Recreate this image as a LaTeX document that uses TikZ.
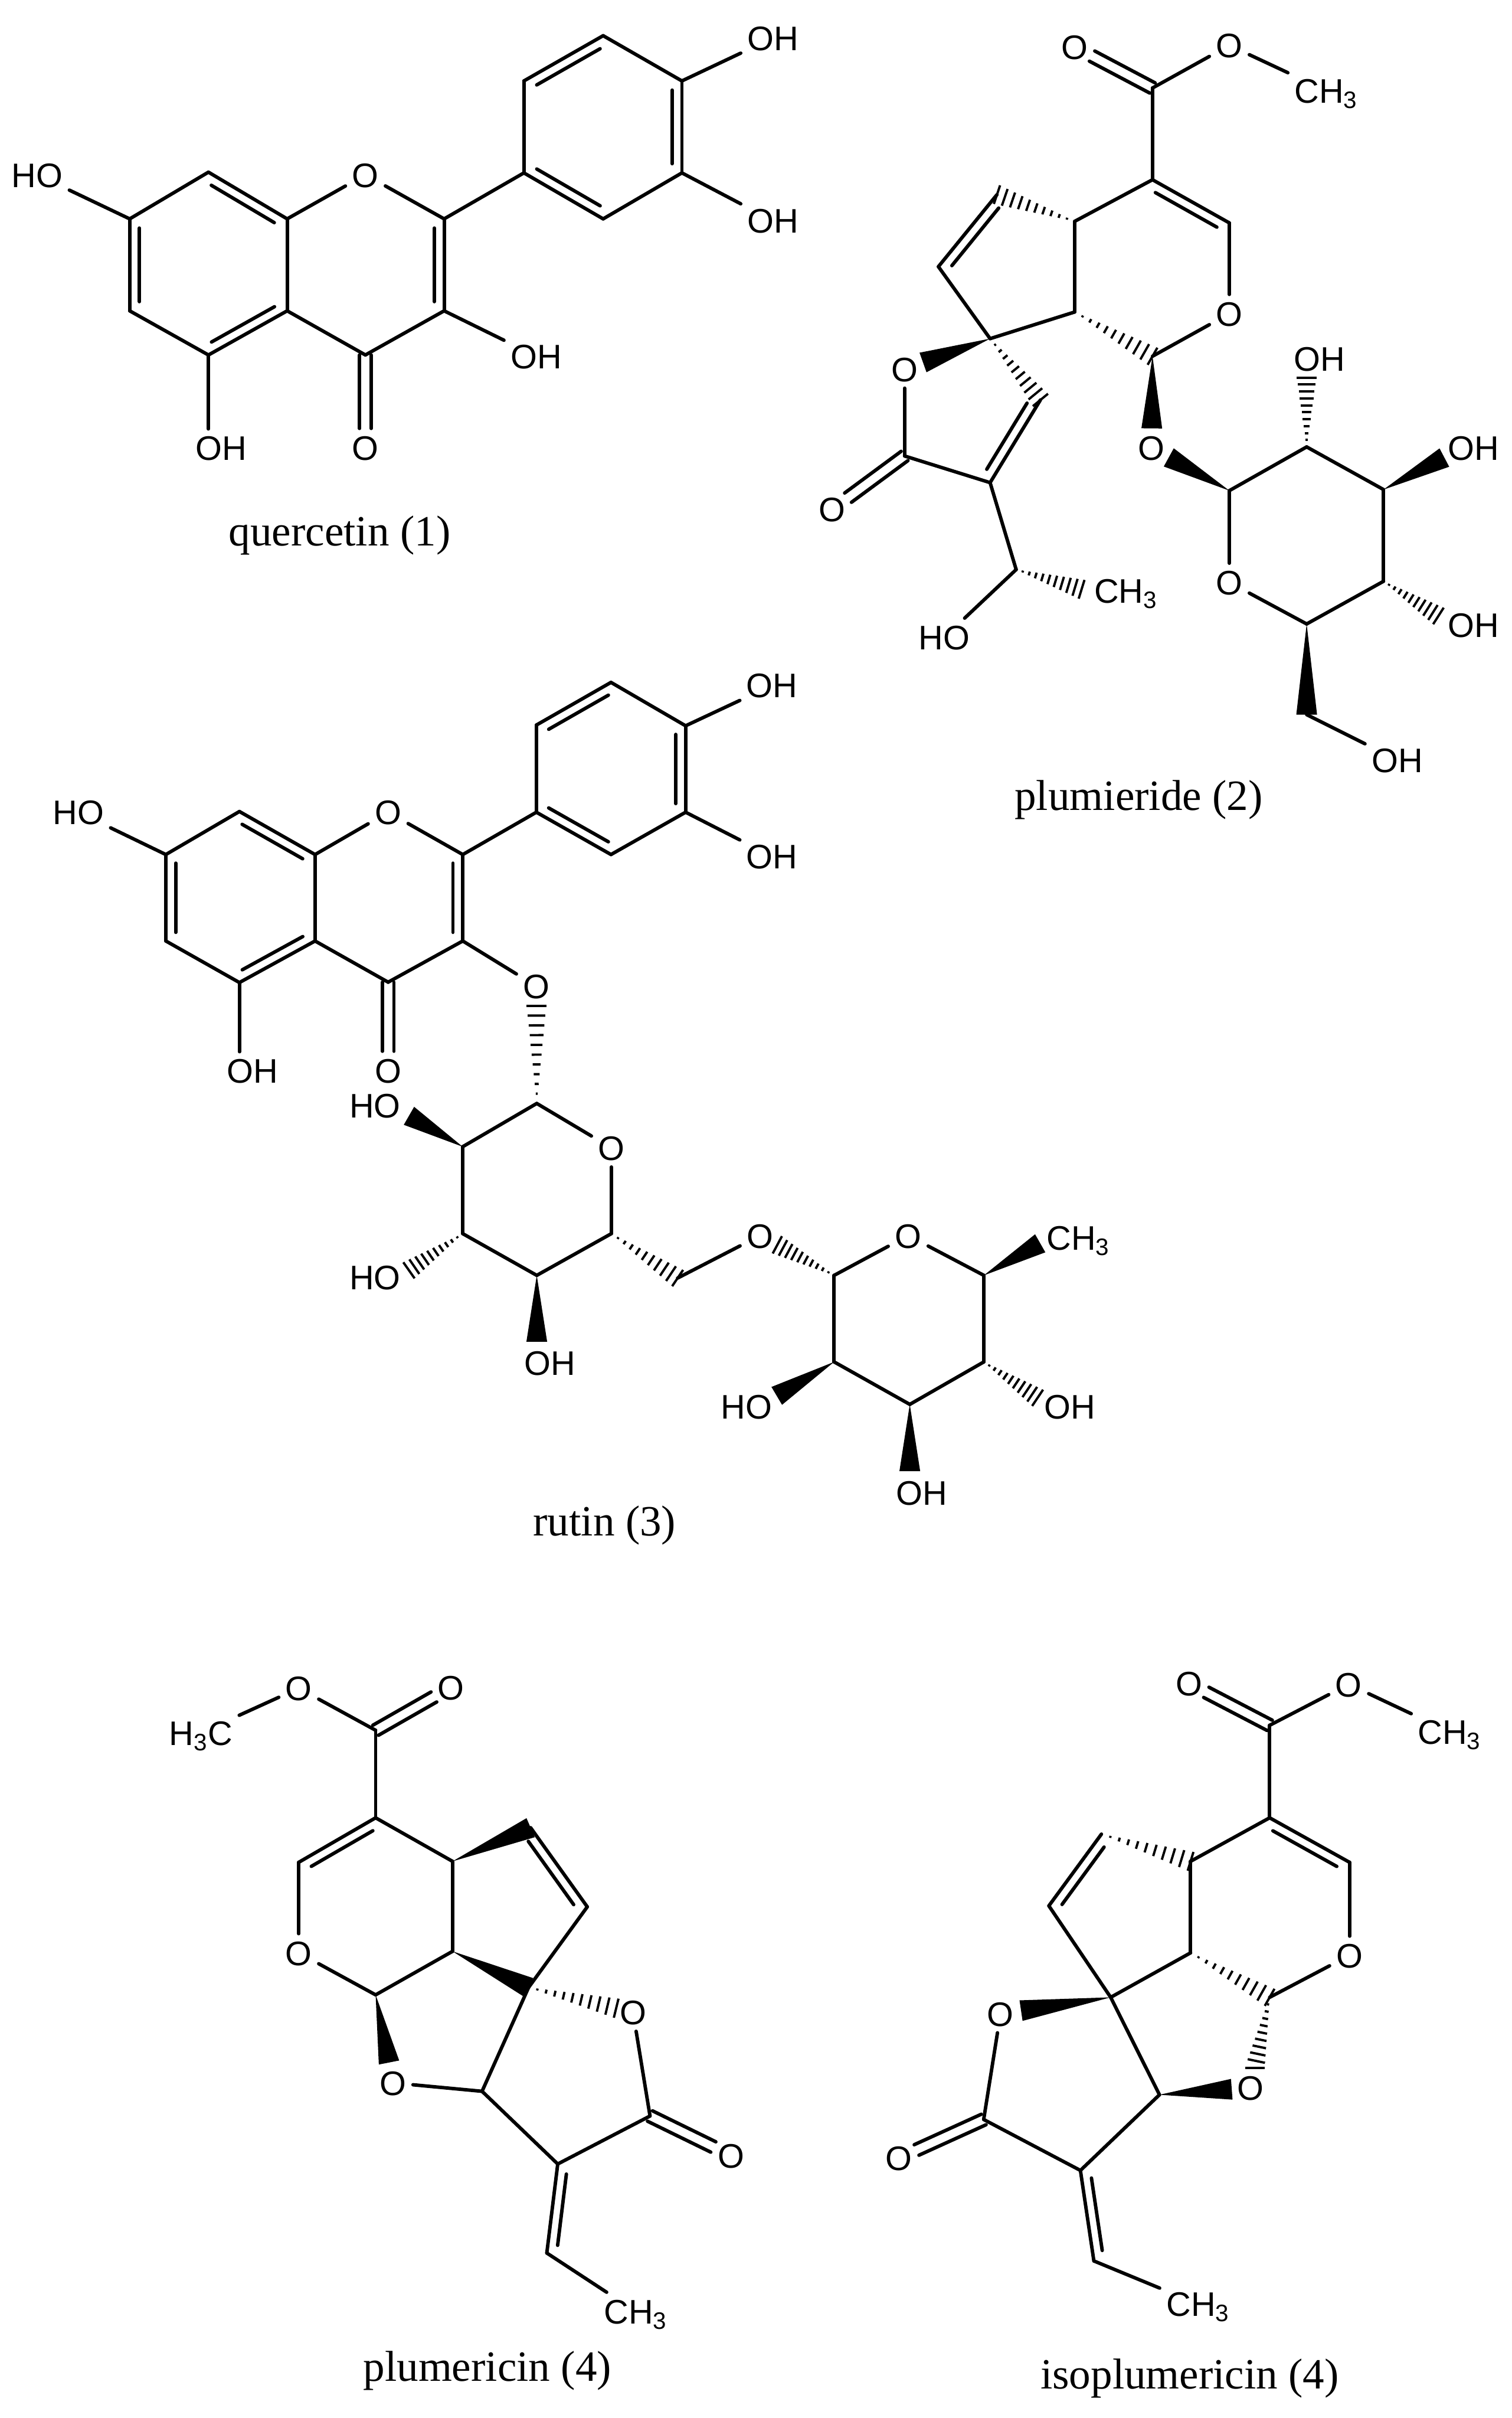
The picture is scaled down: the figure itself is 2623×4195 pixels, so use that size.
\documentclass[tikz,border=0pt]{standalone}
\usepackage{fontspec}
\setmainfont{Liberation Sans}
\newfontfamily\capfont{Liberation Serif}
\usetikzlibrary{calc}
\tikzstyle{atom} = [inner sep=0.11cm, font=\fontsize{16.8}{20}\selectfont, text height=0.43cm, text depth=0pt]
\tikzstyle{bond} = [draw, line width=0.06cm, line cap=round, line join=round]
\tikzstyle{hashbar} = [draw, line width=0.04cm]
\tikzstyle{caption} = [inner sep=0pt, font=\fontsize{21.3}{25}\selectfont\capfont]
% double bond, #3 = 1 inner line on the left of a->b, -1 on the right
\newcommand{\dbond}[3]{
    \draw [bond] (#1) -- (#2);
    \draw [bond] ($(#1)!.1!(#2)!#3*0.17cm!90:(#2)$) -- ($(#2)!.1!(#1)!#3*0.17cm!-90:(#1)$);
}
\newcommand{\cobond}[2]{
    \coordinate (cotip) at ($(#2)!0.34cm!(#1)$);
    \draw [bond] ($(#1)!0.1cm!90:(#2)$) -- ($(cotip)!0.1cm!-90:(#1)$);
    \draw [bond] ($(#1)!0.1cm!-90:(#2)$) -- ($(cotip)!0.1cm!90:(#1)$);
}
\newcommand{\wedgebond}[3][0pt]{
    \coordinate (wtip) at ($(#3)!#1!(#2)$);
    \fill (#2) -- ($(wtip)!0.18cm!90:(#2)$) -- ($(wtip)!0.18cm!-90:(#2)$) -- cycle;
}
\newcommand{\hashbond}[3][0pt]{
    \coordinate (wtip) at ($(#3)!#1!(#2)$);
    \foreach \t in {0.1,0.2,...,1.0}
        \draw [hashbar] ($(#2)!\t!(wtip)!\t*0.17cm!90:(wtip)$) -- ($(#2)!\t!(wtip)!\t*0.17cm!-90:(wtip)$);
}
\begin{document}
\begin{tikzpicture}[x=0.01cm, y=-0.01cm]
    \useasboundingbox [fill=white] (0,0) rectangle (2623,4195);

    % quercetin
    \begin{scope}[x=0.008929cm, y=-0.006378cm]
    \coordinate (qa) at (252,595);
    \coordinate (qb) at (405,468);
    \coordinate (qc) at (558,595);
    \node [atom] (qo) at (710,475) {O};
    \coordinate (qd) at (863,595);
    \coordinate (qe) at (863,845);
    \coordinate (qf) at (710,965);
    \coordinate (qg) at (558,845);
    \coordinate (qh) at (405,965);
    \coordinate (qi) at (252,845);
    \coordinate (qj) at (1018,470);
    \coordinate (qk) at (1018,220);
    \coordinate (ql) at (1172,97);
    \coordinate (qm) at (1325,220);
    \coordinate (qn) at (1325,470);
    \coordinate (qp) at (1172,595);
    \node [atom] (qho) at (72,475) {HO};
    \node [atom] (qohe) at (1042,968) {OH};
    \node [atom] (qcar) at (710,1218) {O};
    \node [atom] (qohh) at (430,1218) {OH};
    \node [atom] (qohm) at (1502,103) {OH};
    \node [atom] (qohn) at (1502,600) {OH};
    \node [caption] (qname) at (660,1455) {quercetin (1)};
    \draw [bond] (qho) -- (qa);
    \draw [bond] (qa) -- (qb);
    \dbond{qb}{qc}{-1}
    \draw [bond] (qc) -- (qo);
    \draw [bond] (qo) -- (qd);
    \dbond{qd}{qe}{-1}
    \draw [bond] (qe) -- (qf);
    \draw [bond] (qf) -- (qg);
    \draw [bond] (qg) -- (qc);
    \dbond{qg}{qh}{-1}
    \draw [bond] (qh) -- (qi);
    \dbond{qi}{qa}{-1}
    \draw [bond] (qe) -- (qohe);
    \cobond{qf}{qcar}
    \draw [bond] (qh) -- (qh |- qohh.north);
    \draw [bond] (qd) -- (qj);
    \draw [bond] (qj) -- (qk);
    \dbond{qk}{ql}{-1}
    \draw [bond] (ql) -- (qm);
    \dbond{qm}{qn}{-1}
    \draw [bond] (qn) -- (qp);
    \dbond{qp}{qj}{-1}
    \draw [bond] (qm) -- (qohm);
    \draw [bond] (qn) -- (qohn);
    \end{scope}

    % rutin, flavonol part
    \begin{scope}[shift={(0.6cm,-11.5cm)}, x=0.008929cm, y=-0.006378cm]
    \coordinate (ra) at (255,520);
    \coordinate (rb) at (398,403);
    \coordinate (rc) at (545,520);
    \node [atom] (ro) at (687,405) {O};
    \coordinate (rd) at (832,520);
    \coordinate (re) at (832,755);
    \coordinate (rf) at (687,867);
    \coordinate (rg) at (545,755);
    \coordinate (rh) at (398,868);
    \coordinate (ri) at (255,755);
    \coordinate (rj) at (975,405);
    \coordinate (rk) at (975,168);
    \coordinate (rl) at (1120,52);
    \coordinate (rm) at (1265,170);
    \coordinate (rn) at (1265,405);
    \coordinate (rp) at (1120,520);
    \node [atom] (rho) at (85,405) {HO};
    \node [atom] (rglyo) at (975,878) {O};
    \node [atom] (rcar) at (687,1108) {O};
    \node [atom] (rohh) at (423,1108) {OH};
    \node [atom] (rohm) at (1433,60) {OH};
    \node [atom] (rohn) at (1433,525) {OH};
    \draw [bond] (rho) -- (ra);
    \draw [bond] (ra) -- (rb);
    \dbond{rb}{rc}{-1}
    \draw [bond] (rc) -- (ro);
    \draw [bond] (ro) -- (rd);
    \dbond{rd}{re}{-1}
    \draw [bond] (re) -- (rf);
    \draw [bond] (rf) -- (rg);
    \draw [bond] (rg) -- (rc);
    \dbond{rg}{rh}{-1}
    \draw [bond] (rh) -- (ri);
    \dbond{ri}{ra}{-1}
    \draw [bond] (re) -- (rglyo);
    \cobond{rf}{rcar}
    \draw [bond] (rh) -- (rh |- rohh.north);
    \draw [bond] (rd) -- (rj);
    \draw [bond] (rj) -- (rk);
    \dbond{rk}{rl}{-1}
    \draw [bond] (rl) -- (rm);
    \dbond{rm}{rn}{-1}
    \draw [bond] (rn) -- (rp);
    \dbond{rp}{rj}{-1}
    \draw [bond] (rm) -- (rohm);
    \draw [bond] (rn) -- (rohn);
    \end{scope}

    % rutin, the two sugars
    \begin{scope}[shift={(5.6cm,-16.5cm)}, x=0.009056cm, y=-0.006696cm]
    \coordinate (gu) at (410,393);
    \coordinate (gv) at (268,505);
    \coordinate (gw) at (268,730);
    \coordinate (gx) at (410,838);
    \coordinate (gy) at (553,730);
    \node [atom] (gro) at (553,508) {O};
    \coordinate (gch) at (680,845);
    \node [atom] (go) at (838,735) {O};
    \coordinate (su) at (980,838);
    \coordinate (sv) at (980,1062);
    \coordinate (sw) at (1125,1172);
    \coordinate (sx) at (1267,1062);
    \coordinate (sy) at (1267,838);
    \node [atom] (sro) at (1122,735) {O};
    \node [atom] (gohv) at (100,398) {HO};
    \node [atom] (gohw) at (100,842) {HO};
    \node [atom] (gohx) at (435,1065) {OH};
    \node [atom] (sohv) at (812,1178) {HO};
    \node [atom] (sohw) at (1148,1400) {OH};
    \node [atom] (sohx) at (1432,1178) {OH};
    \node [atom] (sme) at (1448,740) {CH\textsubscript{3}};
    \node [caption] (rname) at (540,1485) {rutin (3)};
    \coordinate (gvend) at (165,425);
    \coordinate (gwend) at (165,825);
    \coordinate (gxend) at (410,1010);
    \coordinate (svend) at (870,1150);
    \coordinate (swend) at (1125,1345);
    \coordinate (sxend) at (1370,1155);
    \coordinate (syend) at (1375,755);
    \hashbond[0.34cm]{gu}{rglyo}
    \draw [bond] (gu) -- (gv);
    \draw [bond] (gv) -- (gw);
    \draw [bond] (gw) -- (gx);
    \draw [bond] (gx) -- (gy);
    \draw [bond] (gy) -- (gro);
    \draw [bond] (gro) -- (gu);
    \wedgebond{gv}{gvend}
    \hashbond{gw}{gwend}
    \wedgebond{gx}{gxend}
    \hashbond{gy}{gch}
    \draw [bond] (gch) -- (go);
    \hashbond[0.34cm]{su}{go}
    \draw [bond] (su) -- (sv);
    \draw [bond] (sv) -- (sw);
    \draw [bond] (sw) -- (sx);
    \draw [bond] (sx) -- (sy);
    \draw [bond] (sy) -- (sro);
    \draw [bond] (sro) -- (su);
    \wedgebond{sv}{svend}
    \wedgebond{sw}{swend}
    \hashbond{sx}{sxend}
    \wedgebond{sy}{syend}
    \end{scope}

    % plumieride
    \begin{scope}[shift={(13.8cm,0cm)}, x=0.007927cm, y=-0.009247cm]
    \coordinate (pest) at (780,165);
    \node [atom] (pcar) at (610,88) {O};
    \node [atom] (peo) at (948,85) {O};
    \node [atom] (pme) at (1160,170) {CH\textsubscript{3}};
    \coordinate (pa) at (780,337);
    \coordinate (pb) at (948,418);
    \node [atom] (po) at (948,588) {O};
    \coordinate (pc) at (780,668);
    \coordinate (pd) at (610,585);
    \coordinate (pe) at (610,415);
    \coordinate (pf) at (440,365);
    \coordinate (pg) at (312,500);
    \coordinate (ph) at (425,635);
    \node [atom] (plo) at (238,692) {O};
    \coordinate (pi) at (238,855);
    \node [atom] (plc) at (80,955) {O};
    \coordinate (pj) at (425,905);
    \coordinate (pk) at (535,750);
    \coordinate (pl) at (482,1068);
    \node [atom] (plme) at (722,1108) {CH\textsubscript{3}};
    \node [atom] (plho) at (325,1195) {HO};
    \node [atom] (pglyo) at (778,840) {O};
    \coordinate (su1) at (948,920);
    \coordinate (su2) at (1117,838);
    \coordinate (su3) at (1285,918);
    \coordinate (su4) at (1285,1090);
    \coordinate (su5) at (1117,1170);
    \node [atom] (suo) at (948,1092) {O};
    \coordinate (such) at (1117,1340);
    \node [atom] (suoh2) at (1145,672) {OH};
    \node [atom] (suoh3) at (1482,840) {OH};
    \node [atom] (suoh4) at (1482,1172) {OH};
    \node [atom] (suoh6) at (1315,1425) {OH};
    \node [caption] (pname) at (750,1500) {plumieride (2)};
    \coordinate (plend) at (625,1105);
    \coordinate (su2end) at (1117,708);
    \coordinate (su3end) at (1418,858);
    \coordinate (su4end) at (1405,1155);
    \cobond{pest}{pcar}
    \draw [bond] (pest) -- (peo);
    \draw [bond] (peo) -- (pme);
    \draw [bond] (pest) -- (pa);
    \dbond{pa}{pb}{-1}
    \draw [bond] (pb) -- (po);
    \draw [bond] (po) -- (pc);
    \hashbond{pd}{pc}
    \draw [bond] (pd) -- (pe);
    \draw [bond] (pe) -- (pa);
    \hashbond{pe}{pf}
    \dbond{pg}{pf}{-1}
    \draw [bond] (pg) -- (ph);
    \draw [bond] (ph) -- (pd);
    \wedgebond[0.34cm]{ph}{plo}
    \hashbond{ph}{pk}
    \draw [bond] (plo) -- (pi);
    \cobond{pi}{plc}
    \draw [bond] (pi) -- (pj);
    \dbond{pj}{pk}{1}
    \draw [bond] (pj) -- (pl);
    \hashbond{pl}{plend}
    \draw [bond] (pl) -- (plho);
    \wedgebond[0.34cm]{pc}{pglyo}
    \wedgebond[0.34cm]{su1}{pglyo}
    \draw [bond] (su1) -- (su2);
    \draw [bond] (su2) -- (su3);
    \draw [bond] (su3) -- (su4);
    \draw [bond] (su4) -- (su5);
    \draw [bond] (su5) -- (suo);
    \draw [bond] (suo) -- (su1);
    \hashbond{su2}{su2end}
    \wedgebond{su3}{su3end}
    \hashbond{su4}{su4end}
    \wedgebond{su5}{such}
    \draw [bond] (such) -- (suoh6);
    \end{scope}

    % plumericin
    \begin{scope}[shift={(2.5cm,-28.5cm)}, x=0.007015cm, y=-0.008578cm]
    \node [atom] (mme) at (140,180) {H\textsubscript{3}C};
    \node [atom] (meo) at (382,90) {O};
    \coordinate (mest) at (572,175);
    \node [atom] (mcar) at (758,88) {O};
    \coordinate (ma) at (572,352);
    \coordinate (mb) at (382,442);
    \node [atom] (mo) at (382,625) {O};
    \coordinate (mc) at (572,710);
    \coordinate (md) at (762,622);
    \coordinate (me) at (762,440);
    \coordinate (mf) at (955,372);
    \coordinate (mg) at (1095,532);
    \coordinate (mh) at (950,695);
    \node [atom] (mlo) at (1208,745) {O};
    \coordinate (mi) at (1250,955);
    \node [atom] (mlc) at (1450,1035) {O};
    \coordinate (mj) at (1022,1052);
    \coordinate (mk) at (835,905);
    \node [atom] (mfo) at (615,888) {O};
    \coordinate (ml) at (995,1232);
    \node [atom] (mlme) at (1215,1350) {CH\textsubscript{3}};
    \node [caption] (mname) at (848,1470) {plumericin (4)};
    \draw [bond] (mme) -- (meo);
    \draw [bond] (meo) -- (mest);
    \cobond{mest}{mcar}
    \draw [bond] (mest) -- (ma);
    \dbond{mb}{ma}{-1}
    \draw [bond] (mb) -- (mo);
    \draw [bond] (mo) -- (mc);
    \draw [bond] (mc) -- (md);
    \draw [bond] (md) -- (me);
    \draw [bond] (me) -- (ma);
    \wedgebond{me}{mf}
    \dbond{mf}{mg}{-1}
    \draw [bond] (mg) -- (mh);
    \wedgebond{md}{mh}
    \hashbond[0.3cm]{mh}{mlo}
    \draw [bond] (mlo) -- (mi);
    \cobond{mi}{mlc}
    \draw [bond] (mi) -- (mj);
    \draw [bond] (mj) -- (mk);
    \draw [bond] (mk) -- (mh);
    \draw [bond] (mk) -- (mfo);
    \wedgebond[0.36cm]{mc}{mfo}
    \dbond{mj}{ml}{1}
    \draw [bond] (ml) -- (mlme);
    \end{scope}

    % isoplumericin
    \begin{scope}[shift={(14.8cm,-28.5cm)}, x=0.00729cm, y=-0.008578cm]
    \node [atom] (icar) at (798,80) {O};
    \coordinate (iest) at (990,165);
    \node [atom] (ieo) at (1178,82) {O};
    \node [atom] (ime) at (1418,178) {CH\textsubscript{3}};
    \coordinate (ia) at (990,352);
    \coordinate (ib) at (1180,442);
    \node [atom] (io) at (1180,630) {O};
    \coordinate (ic) at (990,715);
    \coordinate (id) at (802,625);
    \coordinate (ie) at (802,440);
    \coordinate (if) at (590,385);
    \coordinate (ig) at (465,530);
    \coordinate (ih) at (612,715);
    \node [atom] (ilo) at (350,748) {O};
    \coordinate (ii) at (310,962);
    \node [atom] (ilc) at (108,1040) {O};
    \coordinate (ij) at (540,1065);
    \coordinate (ik) at (728,912);
    \node [atom] (ifo) at (945,898) {O};
    \coordinate (il) at (572,1248);
    \node [atom] (ilme) at (820,1335) {CH\textsubscript{3}};
    \node [caption] (iname) at (800,1485) {isoplumericin (4)};
    \cobond{iest}{icar}
    \draw [bond] (iest) -- (ieo);
    \draw [bond] (ieo) -- (ime);
    \draw [bond] (iest) -- (ia);
    \dbond{ia}{ib}{-1}
    \draw [bond] (ib) -- (io);
    \draw [bond] (io) -- (ic);
    \hashbond{id}{ic}
    \draw [bond] (id) -- (ie);
    \draw [bond] (ie) -- (ia);
    \hashbond{if}{ie}
    \dbond{ig}{if}{-1}
    \draw [bond] (ig) -- (ih);
    \draw [bond] (ih) -- (id);
    \wedgebond[0.36cm]{ih}{ilo}
    \draw [bond] (ilo) -- (ii);
    \cobond{ii}{ilc}
    \draw [bond] (ii) -- (ij);
    \draw [bond] (ij) -- (ik);
    \draw [bond] (ik) -- (ih);
    \wedgebond[0.33cm]{ik}{ifo}
    \hashbond[0.35cm]{ic}{ifo}
    \dbond{ij}{il}{1}
    \draw [bond] (il) -- (ilme);
    \end{scope}
\end{tikzpicture}
\end{document}
